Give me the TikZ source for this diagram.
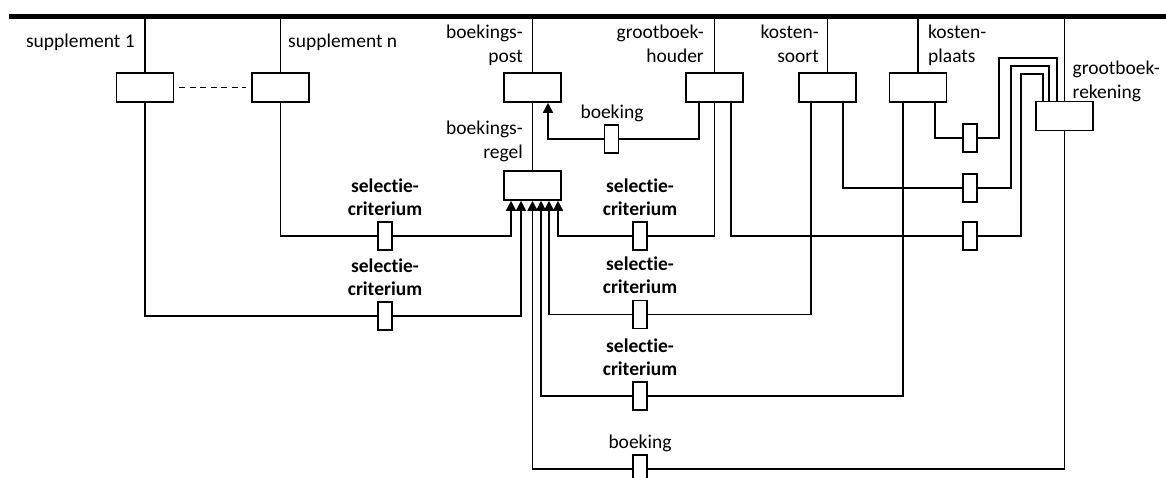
\documentclass[tikz,border=0pt]{standalone}
\usepackage{fontspec}
\setmainfont{Carlito}[Ligatures={NoCommon,NoContextual}]
\usetikzlibrary{arrows.meta,backgrounds}
\begin{document}
\begin{tikzpicture}[x=1pt,y=-1pt,
  box/.style={draw, line width=1.6pt, minimum width=57pt, minimum height=29pt, inner sep=0pt, fill=white},
  mk/.style={draw, line width=1.6pt, minimum width=14pt, minimum height=28pt, inner sep=0pt, fill=white},
  ln/.style={line width=1.6pt},
  arr/.style={ln, -{Triangle[length=10pt,width=10pt]}},
  lbl/.style={inner sep=0pt, font=\fontsize{19.5}{24}\selectfont},
  crit/.style={inner sep=0pt, align=center, anchor=base, font=\fontsize{19.5}{23}\selectfont\bfseries}
]
\useasboundingbox (0,0) rectangle (1166,477);
% bus
\coordinate (busL) at (9,16.5);
\coordinate (busR) at (1170,16.5);
\draw[line width=5pt] (busL) -- (busR);

% entity boxes
\node[box] (s1) at (145,87.5) {};
\node[box] (sn) at (280.5,87.5) {};
\node[box] (bp) at (532.5,87.5) {};
\node[box] (br) at (532.5,185.5) {};
\node[box] (gh) at (714.5,87.5) {};
\node[box] (ks) at (827.5,87.5) {};
\node[box] (kp) at (918,87.5) {};
\node[box] (gr) at (1064.5,116) {};

% relation markers
\node[mk] (m1) at (611.5,139) {};
\node[mk] (m2) at (385,236) {};
\node[mk] (m3) at (385,316) {};
\node[mk] (m4) at (640,236) {};
\node[mk] (m5) at (640,314.5) {};
\node[mk] (m6) at (640,396) {};
\node[mk] (m7) at (640,469) {};
\node[mk] (m8) at (970,138) {};
\node[mk] (m9) at (970,188) {};
\node[mk] (m10) at (970,236) {};

% labels (base anchor of a multi-line node = baseline of its last line)
\node[lbl, anchor=base east] (t1) at (135,47) {supplement 1};
\node[lbl, anchor=base west] (t2) at (288,47) {supplement n};
\node[lbl, anchor=base east, align=right] (t3) at (523,62) {boekings-\\post};
\node[lbl, anchor=base east, align=right] (t4) at (704,62) {grootboek-\\houder};
\node[lbl, anchor=base east, align=right] (t5) at (819,62) {kosten-\\soort};
\node[lbl, anchor=base west, align=left] (t6) at (928,62) {kosten-\\plaats};
\node[lbl, anchor=base west, align=left] (t7) at (1072.5,98) {grootboek-\\rekening};
\node[lbl, anchor=base east, align=right] (t8) at (523,158.5) {boekings-\\regel};
\node[lbl, anchor=base] (t9) at (612,118) {boeking};
\node[lbl, anchor=base] (t10) at (640,448) {boeking};
\node[crit] (c1) at (385,215) {selectie-\\criterium};
\node[crit] (c2) at (385,295) {selectie-\\criterium};
\node[crit] (c3) at (640,215) {selectie-\\criterium};
\node[crit] (c4) at (640,293.5) {selectie-\\criterium};
\node[crit] (c5) at (640,375) {selectie-\\criterium};

\begin{scope}[on background layer]
  % bus drops
  \draw[ln] (s1.north) -- (s1.north |- busL);
  \draw[ln] (sn.north) -- (sn.north |- busL);
  \draw[ln] (bp.north) -- (bp.north |- busL);
  \draw[ln] (gh.north) -- (gh.north |- busL);
  \draw[ln] (ks.north) -- (ks.north |- busL);
  \draw[ln] (kp.north) -- (kp.north |- busL);
  \draw[ln] (gr.north) -- (gr.north |- busL);
  % dashed
  \draw[ln, dash pattern=on 6pt off 4.5pt, shorten <=5pt, shorten >=5pt] (s1.east) -- (sn.west);
  % boekingspost - boekingsregel
  \draw[ln] (bp.south) -- (br.north);
  % boeking grootboekhouder -> boekingspost
  \draw[arr] ([xshift=-15.5pt]gh.south) |- (m1.center) -| ([xshift=15.5pt]bp.south);
  % selection criteria into boekingsregel
  \draw[arr] (sn.south) |- (m2.center) -| ([xshift=-21.5pt]br.south);
  \draw[arr] (s1.south) |- (m3.center) -| ([xshift=-11.5pt]br.south);
  \draw[arr] (gh.south) |- (m4.center) -| ([xshift=25.5pt]br.south);
  \draw[arr] ([xshift=-16.5pt]ks.south) |- (m5.center) -| ([xshift=16.5pt]br.south);
  \draw[arr] ([xshift=-15pt]kp.south) |- (m6.center) -| ([xshift=8.5pt]br.south);
  \draw[arr] (gr.south) |- (m7.center) -| (br.south);
  % links into grootboekrekening
  \draw[ln] ([xshift=17pt]kp.south) |- (m8.center) -| (999,58) -| ([xshift=-7.5pt]gr.north);
  \draw[ln] ([xshift=15.5pt]ks.south) |- (m9.center) -| (1011,66) -| ([xshift=-15.5pt]gr.north);
  \draw[ln] ([xshift=16.5pt]gh.south) |- (m10.center) -| (1021,74) -| ([xshift=-21.5pt]gr.north);
\end{scope}
\end{tikzpicture}
\end{document}
